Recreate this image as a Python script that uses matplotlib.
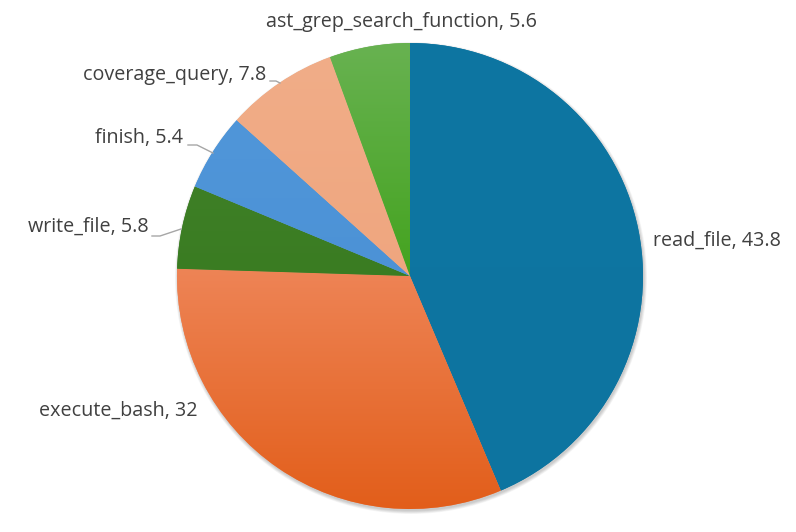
import numpy as np
import matplotlib
matplotlib.use("Agg")
import matplotlib.pyplot as plt
from matplotlib.patches import Circle
from matplotlib.colors import LinearSegmentedColormap

labels = ["read_file", "execute_bash", "write_file", "finish", "coverage_query", "ast_grep_search_function"]
values = [43.8, 32, 5.8, 5.4, 7.8, 5.6]
top_colors = ["#0E76A2", "#EE8456", "#3E7F26", "#5096D9", "#F1AD88", "#68B251"]
bot_colors = ["#0D74A0", "#E25E1A", "#3A7C22", "#4C92D6", "#EFA67F", "#44A31F"]

W, H = 796, 532
fig = plt.figure(figsize=(W / 100, H / 100), dpi=100)
ax = fig.add_axes([0, 0, 1, 1])

cx, cy, R = 410, H - 276, 233

# soft shadow
for i in range(6):
    ax.add_patch(Circle((cx + 1, cy - 2), R + 3 - i * 0.6, color="black", alpha=0.035, lw=0, zorder=0))

wedges, _ = ax.pie(values, center=(cx, cy), radius=R, startangle=90, counterclock=False,
                   colors=top_colors, wedgeprops=dict(linewidth=0), frame=True)
ax.set_xlim(0, W)
ax.set_ylim(0, H)
ax.set_aspect("equal")
ax.axis("off")

for w, c1, c2 in zip(wedges, top_colors, bot_colors):
    ext = w.get_path().get_extents()
    cmap = LinearSegmentedColormap.from_list("g", [c2, c1])
    grad = np.linspace(0, 1, 256).reshape(-1, 1)
    im = ax.imshow(grad, cmap=cmap, origin="lower", aspect="auto",
                   extent=(ext.x0, ext.x1, ext.y0, ext.y1), zorder=2, interpolation="bilinear")
    im.set_clip_path(w)

ax.set_xlim(0, W)
ax.set_ylim(0, H)

txt = dict(color="#404040", fontsize=14.2, family=["Open Sans", "DejaVu Sans"], va="center")
vals_str = [f"{v:g}" for v in values]
ax.text(653, H - 241, f"{labels[0]}, {vals_str[0]}", ha="left", **txt)
ax.text(198, H - 411, f"{labels[1]}, {vals_str[1]}", ha="right", **txt)
ax.text(149, H - 227, f"{labels[2]}, {vals_str[2]}", ha="right", **txt)
ax.text(183, H - 138, f"{labels[3]}, {vals_str[3]}", ha="right", **txt)
ax.text(266, H - 75, f"{labels[4]}, {vals_str[4]}", ha="right", **txt)
ax.text(401, H - 22, f"{labels[5]}, {vals_str[5]}", ha="center", **txt)

lc = dict(color="#A6A6A6", lw=1, zorder=3)
ax.plot([152, 160, 181], [H - 236, H - 236, H - 229], **lc)
ax.plot([188, 197, 213], [H - 145, H - 145, H - 153], **lc)
ax.plot([270, 276, 280], [H - 81, H - 81, H - 83], **lc)

fig.savefig("out.png", dpi=100)
